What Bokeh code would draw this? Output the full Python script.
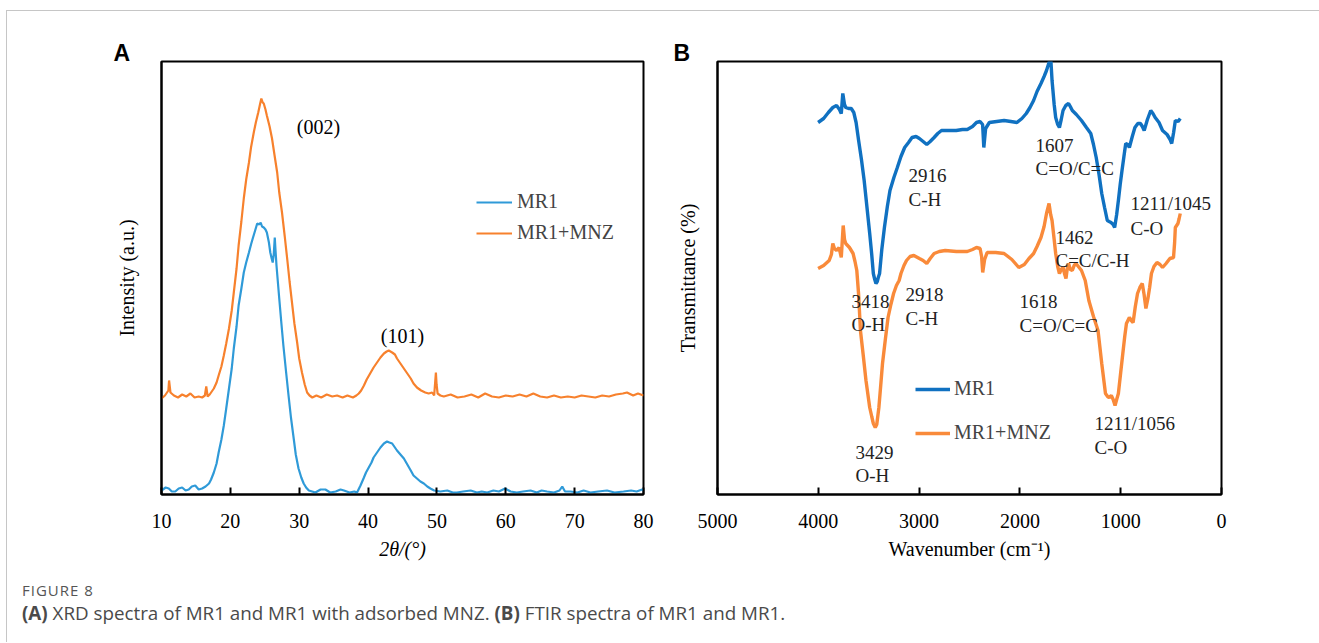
from bokeh.plotting import figure
from bokeh.models import Range1d, FixedTicker, Legend, LegendItem, Div
from bokeh.layouts import row, column
from bokeh.embed import file_html
from bokeh.resources import INLINE
from bokeh.core.properties import value

# ---------------- Panel A : XRD ----------------
xrd_theta_mnz = [10.0, 10.5, 11.0, 11.1, 11.3, 11.8, 12.4, 13.0, 13.6, 14.2,
                 14.8, 15.4, 15.9, 16.3, 16.5, 16.7, 17.0, 17.3, 17.6, 18.0,
                 18.3, 18.7, 19.05, 19.4, 19.8, 20.2, 20.5, 20.9, 21.2, 21.6,
                 21.95, 22.3, 22.7, 23.0, 23.4, 23.7, 24.05, 24.3, 24.5, 24.7,
                 24.85, 25.1, 25.3, 25.7, 26.05, 26.4, 26.8, 27.1, 27.5, 27.9,
                 28.25, 28.6, 28.95, 29.3, 29.7, 30.0, 30.4, 30.8, 31.15, 31.5,
                 31.9, 32.5, 33.2, 34.0, 34.8, 35.5, 36.3, 37.0, 37.8, 38.3,
                 38.65, 39.0, 39.4, 39.8, 40.3, 40.8, 41.3, 41.8, 42.3, 42.7,
                 43.0, 43.5, 43.9, 44.2, 44.7, 45.2, 45.7, 46.2, 46.6, 47.1,
                 47.7, 48.3, 48.8, 49.3, 49.6, 49.85, 49.95, 50.1, 50.5, 51.0,
                 52.0, 53.0, 54.0, 55.0, 56.0, 57.0, 58.0, 59.0, 60.0, 61.0,
                 62.0, 63.0, 64.0, 65.0, 66.0, 67.0, 68.0, 69.0, 70.0, 71.0,
                 72.0, 73.0, 74.0, 75.0, 76.0, 77.0, 77.6, 78.5, 79.2, 80.0]
xrd_int_mnz = [96, 99, 104, 114, 102, 99, 97, 100, 98, 101,
               97, 98, 97, 99, 108, 98, 100, 103, 106, 112,
               119, 128, 139, 151, 166, 184, 202, 226, 249, 273,
               296, 315, 332, 347, 362, 372, 382, 390, 396, 392,
               391, 385, 379, 368, 356, 340, 322, 302, 282, 258,
               236, 213, 192, 171, 152, 136, 122, 110, 102, 99,
               97, 99, 97, 100, 98, 99, 97, 99, 97, 99,
               101, 104, 109, 115, 121, 127, 132, 137, 141, 143,
               144, 142, 140, 136, 131, 126, 121, 116, 111, 107,
               104, 102, 101, 102, 99, 122, 110, 101, 99, 98,
               100, 97, 98, 100, 97, 101, 98, 97, 99, 98,
               100, 98, 101, 98, 97, 99, 97, 98, 97, 99,
               98, 97, 99, 98, 100, 101, 102, 99, 101, 99]

xrd_theta_mr1 = [10.0, 10.6, 11.06, 11.5, 12.0, 12.5, 13.0, 13.5, 13.96, 14.4,
                 14.9, 15.4, 15.9, 16.4, 16.9, 17.2, 17.6, 18.0, 18.3, 18.7,
                 19.05, 19.4, 19.8, 20.2, 20.5, 20.9, 21.2, 21.6, 21.95, 22.3,
                 22.7, 23.0, 23.25, 23.6, 23.9, 24.2, 24.4, 24.6, 24.85, 25.1,
                 25.3, 25.6, 25.8, 26.0, 26.15, 26.3, 26.45, 26.55, 26.7, 27.1,
                 27.4, 27.7, 28.1, 28.45, 28.8, 29.2, 29.5, 29.9, 30.3, 30.65,
                 31.0, 31.4, 32.35, 33.1, 33.8, 34.5, 35.3, 36.0, 36.5, 37.3,
                 38.0, 38.4, 38.9, 39.4, 39.7, 40.1, 40.5, 40.8, 41.3, 41.8,
                 42.3, 42.75, 43.1, 43.5, 43.9, 44.2, 44.7, 45.2, 45.7, 46.2,
                 46.6, 47.1, 47.6, 48.1, 48.6, 49.05, 49.6, 50.5, 51.5, 52.3,
                 52.9, 53.8, 54.9, 55.8, 56.5, 57.3, 58.2, 59.0, 59.9, 60.7,
                 61.6, 62.5, 63.6, 64.5, 65.2, 66.0, 67.0, 67.8, 68.2, 68.6,
                 69.4, 70.4, 71.3, 72.3, 73.4, 74.7, 75.8, 77.1, 78.2, 79.0,
                 79.8, 80.0]
xrd_int_mr1 = [4, 7, 6, 3, 3, 6, 7, 4, 5, 8,
               9, 5, 6, 8, 11, 15, 22, 31, 42, 55,
               69, 86, 106, 126, 146, 168, 189, 206, 222, 232,
               242, 250, 256, 264, 271, 270, 272, 268, 267, 265,
               262, 252, 242, 236, 232, 240, 257, 245, 229, 196,
               172, 149, 122, 99, 77, 56, 40, 26, 17, 11,
               7, 4, 2, 5, 5, 2, 3, 5, 4, 2,
               3, 2, 9, 17, 22, 27, 32, 37, 42, 47,
               51, 53, 52, 51, 47, 44, 40, 36, 30, 24,
               19, 16, 13, 11, 8, 6, 4, 3, 4, 2,
               2, 3, 4, 2, 3, 2, 4, 3, 6, 3,
               2, 3, 4, 2, 4, 3, 2, 4, 8, 3,
               3, 2, 4, 2, 3, 4, 2, 3, 4, 3,
               5, 4]

xrd_ticks = [10, 20, 30, 40, 50, 60, 70, 80]
xrd_peak_text = ["(002)", "(101)"]
xrd_peak_x = [32.8, 45.0]
xrd_peak_y = [368, 159]

# ---------------- Panel B : FTIR ----------------
ftir_wn_mr1 = [4002, 3947, 3900, 3856, 3819, 3790, 3772, 3757, 3740, 3728,
               3700, 3673, 3648, 3625, 3600, 3572, 3545, 3518, 3490, 3470,
               3454, 3440, 3428, 3415, 3405, 3392, 3370, 3344, 3315, 3289,
               3250, 3216, 3180, 3143, 3105, 3070, 3030, 2997, 2960, 2924,
               2890, 2851, 2815, 2778, 2700, 2632, 2570, 2522, 2470, 2431,
               2395, 2370, 2358, 2340, 2303, 2230, 2157, 2090, 2029, 1980,
               1937, 1900, 1864, 1830, 1791, 1760, 1736, 1711, 1695, 1681,
               1660, 1645, 1625, 1608, 1590, 1572, 1545, 1517, 1500, 1480,
               1440, 1389, 1340, 1297, 1270, 1243, 1215, 1188, 1160, 1133,
               1115, 1096, 1075, 1060, 1040, 1023, 1005, 987, 968, 950,
               930, 914, 885, 859, 830, 804, 785, 767, 735, 702,
               680, 658, 620, 585, 540, 510, 494, 475, 458, 430,
               409]
ftir_t_mr1 = [372, 376, 382, 387, 389, 385, 381, 401, 390, 387,
              386, 386, 382, 372, 354, 335, 314, 288, 261, 240,
              221, 215, 211, 213, 217, 221, 245, 267, 288, 304,
              317, 327, 338, 347, 352, 357, 358, 356, 353, 350,
              353, 357, 361, 364, 364, 364, 365, 365, 368, 372,
              373, 370, 347, 366, 372, 373, 374, 373, 372, 376,
              381, 387, 394, 403, 411, 418, 424, 432, 438, 414,
              390, 377, 370, 367, 375, 384, 389, 391, 388, 384,
              380, 374, 367, 361, 350, 337, 320, 301, 287, 274,
              273, 272, 270, 267, 280, 294, 310, 324, 338, 351,
              350, 347, 358, 367, 371, 371, 368, 364, 375, 384,
              381, 377, 372, 364, 360, 355, 351, 362, 374, 373,
              376]

ftir_wn_mnz = [4002, 3947, 3892, 3870, 3856, 3840, 3819, 3794, 3772, 3753,
               3740, 3728, 3691, 3655, 3636, 3618, 3600, 3582, 3555, 3527,
               3490, 3470, 3454, 3435, 3420, 3399, 3380, 3363, 3335, 3308,
               3280, 3253, 3225, 3198, 3180, 3150, 3125, 3090, 3052, 2997,
               2960, 2924, 2890, 2851, 2800, 2741, 2630, 2522, 2470, 2431,
               2395, 2380, 2369, 2350, 2325, 2240, 2157, 2080, 2011, 1956,
               1910, 1864, 1830, 1791, 1760, 1736, 1711, 1695, 1681, 1660,
               1645, 1625, 1608, 1590, 1572, 1555, 1543, 1530, 1517, 1500,
               1480, 1462, 1444, 1420, 1389, 1352, 1316, 1270, 1225, 1188,
               1151, 1130, 1115, 1093, 1075, 1056, 1040, 1023, 1000, 979,
               960, 943, 914, 895, 877, 855, 833, 810, 786, 768,
               750, 730, 713, 695, 670, 640, 610, 585, 550, 512,
               476, 465, 458, 432, 420, 409]
ftir_t_mnz = [226, 229, 234, 240, 251, 246, 244, 247, 237, 269,
              255, 251, 247, 241, 233, 224, 200, 164, 140, 114,
              87, 78, 71, 67, 70, 87, 110, 131, 155, 177,
              190, 201, 209, 214, 221, 229, 234, 238, 239, 236,
              234, 231, 236, 241, 243, 244, 243, 243, 245, 247,
              246, 238, 222, 235, 242, 242, 241, 235, 227, 230,
              236, 241, 248, 257, 268, 281, 291, 280, 274, 255,
              241, 228, 221, 225, 227, 220, 216, 226, 231, 225,
              224, 229, 231, 228, 224, 214, 194, 178, 164, 131,
              101, 98, 97, 99, 95, 89, 95, 101, 122, 141,
              158, 171, 177, 174, 172, 188, 201, 207, 211, 200,
              186, 196, 207, 221, 228, 232, 230, 227, 231, 236,
              237, 252, 267, 271, 276, 281]

ftir_ticks = [5000, 4000, 3000, 2000, 1000, 0]
ftir_note_text = ["1607", "C=O/C=C", "2916", "C-H", "1211/1045", "C-O",
                  "1462", "C=C/C-H", "3418", "O-H", "2918", "C-H",
                  "1618", "C=O/C=C", "1211/1056", "C-O", "3429", "O-H"]
ftir_note_x = [1845, 1845, 3105, 3105, 903, 903,
               1647, 1647, 3671, 3671, 3135, 3135,
               2004, 2004, 1260, 1260, 3631, 3631]
ftir_note_y = [349, 326, 319, 295, 291, 266,
               257, 234, 193, 170, 200, 176,
               193, 169, 71, 47, 42, 19]

assert len(xrd_theta_mnz) == len(xrd_int_mnz)
assert len(xrd_theta_mr1) == len(xrd_int_mr1)
assert len(ftir_wn_mr1) == len(ftir_t_mr1)
assert len(ftir_wn_mnz) == len(ftir_t_mnz)

SERIF = "Liberation Serif"
FS = "20px"


def base_style(p):
    p.outline_line_color = "black"
    p.outline_line_width = 2
    p.xgrid.visible = False
    p.ygrid.visible = False
    p.background_fill_color = "white"
    p.border_fill_color = "white"
    for ax in (p.xaxis[0], p.yaxis[0]):
        ax.axis_line_color = "black"
        ax.axis_line_width = 2
        ax.minor_tick_line_color = None
        ax.major_tick_line_color = "black"
        ax.major_tick_line_width = 2
        ax.major_tick_in = 7
        ax.major_tick_out = 0
        ax.major_label_text_font = SERIF
        ax.major_label_text_font_size = FS
        ax.major_label_text_color = "black"
        ax.axis_label_text_font = SERIF
        ax.axis_label_text_font_size = FS
        ax.axis_label_text_color = "black"
        ax.axis_label_text_font_style = "normal"
    p.xaxis[0].major_label_standoff = 19
    p.xaxis[0].axis_label_standoff = 7
    p.yaxis[0].ticker = FixedTicker(ticks=[])
    p.yaxis[0].major_label_standoff = 0
    p.yaxis[0].major_tick_line_color = None


def panel_letter(p, letter, offset):
    p.title.text = letter
    p.title.align = "left"
    p.title.offset = offset
    p.title.text_font = "Liberation Sans"
    p.title.text_font_style = "bold"
    p.title.text_font_size = "23px"
    p.title.text_color = "black"
    p.title.vertical_align = "bottom"
    try:
        p.title.standoff = -9
    except Exception:
        p.title.standoff = 0


# ---- figure A
pa = figure(width=651, height=559, x_range=Range1d(10, 80), y_range=Range1d(0, 433),
            output_backend="svg", toolbar_location=None,
            min_border_left=154, min_border_right=15, min_border_top=50, min_border_bottom=76)
base_style(pa)
panel_letter(pa, "A", -48)
pa.xaxis[0].ticker = FixedTicker(ticks=xrd_ticks)
pa.xaxis[0].axis_label = "2θ/(°)"
pa.xaxis[0].axis_label_text_font_style = "italic"
pa.yaxis[0].axis_label = "Intensity (a.u.)"
pa.yaxis[0].axis_label_standoff = 24

ra1 = pa.line(xrd_theta_mr1, xrd_int_mr1, line_color="#2F9AD8", line_width=2.2)
ra2 = pa.line(xrd_theta_mnz, xrd_int_mnz, line_color="#F7812D", line_width=2.2)
pa.text(x=xrd_peak_x, y=xrd_peak_y, text=xrd_peak_text, text_font=value(SERIF),
        text_font_size=value(FS), text_align="center", text_baseline="middle", text_color="black")
leg_a = Legend(items=[LegendItem(label="MR1", renderers=[ra1]),
                      LegendItem(label="MR1+MNZ", renderers=[ra2])],
               location=(315, 250), border_line_color=None, background_fill_alpha=0,
               padding=0, margin=0, spacing=8, glyph_width=36, glyph_height=20,
               label_height=20, label_standoff=5, label_text_font=SERIF,
               label_text_font_size=FS)
pa.add_layout(leg_a)

# ---- figure B
pb = figure(width=651, height=559, x_range=Range1d(5000, 0), y_range=Range1d(0, 433),
            output_backend="svg", toolbar_location=None,
            min_border_left=59, min_border_right=88, min_border_top=50, min_border_bottom=76)
base_style(pb)
panel_letter(pb, "B", -44)
pb.xaxis[0].ticker = FixedTicker(ticks=ftir_ticks)
pb.xaxis[0].axis_label = "Wavenumber (cm\u207b\u00b9)"
pb.yaxis[0].axis_label = "Transmittance (%)"
pb.yaxis[0].axis_label_standoff = 19

rb1 = pb.line(ftir_wn_mr1, ftir_t_mr1, line_color="#1071C1", line_width=3.4)
rb2 = pb.line(ftir_wn_mnz, ftir_t_mnz, line_color="#F98A3A", line_width=3.4)
pb.text(x=ftir_note_x, y=ftir_note_y, text=ftir_note_text, text_font=value(SERIF),
        text_font_size=value("19px"), text_align="left", text_baseline="middle", text_color="#222222")
leg_b = Legend(items=[LegendItem(label="MR1", renderers=[rb1]),
                      LegendItem(label="MR1+MNZ", renderers=[rb2])],
               location=(198, 50), border_line_color=None, background_fill_alpha=0,
               padding=0, margin=0, spacing=21, glyph_width=35, glyph_height=20,
               label_height=20, label_standoff=4, label_text_font=SERIF,
               label_text_font_size=FS)
pb.add_layout(leg_b)

caption = Div(text=(
    '<div style="font-family:\'Open Sans\',sans-serif;color:#555;padding-left:10px;">'
    '<div style="font-size:15px;letter-spacing:1px;line-height:18px;margin-top:6px;">FIGURE 8</div>'
    '<div style="font-size:18.8px;line-height:24px;margin-top:2px;color:#4a4a4a;">'
    '<b>(A)</b> XRD spectra of MR1 and MR1 with adsorbed MNZ. '
    '<b>(B)</b> FTIR spectra of MR1 and MR1.</div></div>'),
    width=1302, height=62)

layout = column(row(pa, pb), caption, margin=(10, 0, 0, 6),
                styles={"border-top": "1px solid #c6c6c6", "border-left": "1px solid #c6c6c6"})

open("out.html", "w").write(file_html(layout, INLINE))
